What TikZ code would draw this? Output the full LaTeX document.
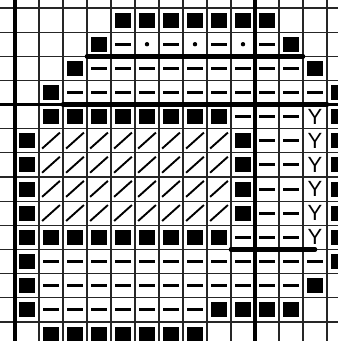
\documentclass[tikz,border=0pt]{standalone}
\usepackage{fontspec}
\newfontfamily\chartfont{Liberation Sans}
\begin{document}
\begin{tikzpicture}[
        x=24pt, y=-24.15pt,
        gridline/.style={draw=black!85, line width=1.1pt},
        tenline/.style={draw=black, line width=3.4pt},
        outline/.style={draw=black, line width=4.6pt, line cap=round},
        sq/.style={fill=black, minimum width=16pt, minimum height=15pt, inner sep=0pt},
        dsh/.style={fill=black, minimum width=16pt, minimum height=3pt, inner sep=0pt},
        dt/.style={fill=black, circle, minimum size=4.4pt, inner sep=0pt},
        slash/.style={draw=black, line width=1.9pt},
        ysym/.style={inner sep=0pt, font=\chartfont\fontsize{22}{22}\selectfont},
    ]
    \useasboundingbox (-0.625,-0.3313) rectangle (13.458,13.789);
    \clip (-0.625,-0.3313) rectangle (13.458,13.789);
    \fill[white] (-0.625,-0.3313) rectangle (13.458,13.789);
    % grid
    \foreach \c in {1,...,13} {\draw[gridline] (\c,-0.4) -- (\c,13.9);}
    \foreach \r in {0,...,13} {\draw[gridline] (-0.7,\r) -- (13.5,\r);}
    \draw[tenline] (0,-0.4) -- (0,13.9);
    \draw[tenline] (10,-0.4) -- (10,13.9);
    \draw[tenline] (-0.7,4) -- (13.5,4);
    % full stitches
    \foreach \c/\r in {4/0,5/0,6/0,7/0,8/0,9/0,10/0, 3/1,11/1, 2/2,12/2, 1/3,13/3,
        1/4,2/4,3/4,4/4,5/4,6/4,7/4,8/4,13/4,
        0/5,9/5,13/5, 0/6,9/6,13/6, 0/7,9/7,13/7, 0/8,9/8,13/8,
        0/9,1/9,2/9,3/9,4/9,5/9,6/9,7/9,8/9,13/9,
        0/10,13/10, 0/11,12/11, 0/12,8/12,9/12,10/12,11/12,
        1/13,2/13,3/13,4/13,5/13,6/13,7/13}
        {\node[sq] (s-\c-\r) at (\c+0.5,\r+0.5) {};}
    % backstitch dashes
    \foreach \c/\r in {4/1,6/1,8/1,10/1, 9/4,10/4,11/4,
        10/5,11/5, 10/6,11/6, 10/7,11/7, 10/8,11/8, 9/9,10/9,11/9}
        {\node[dsh] (d-\c-\r) at (\c+0.5,\r+0.5) {};}
    \foreach \c in {3,...,11} {\node[dsh] (d-\c-2) at (\c+0.5,2.5) {};}
    \foreach \c in {2,...,12} {\node[dsh] (d-\c-3) at (\c+0.5,3.5) {};}
    \foreach \c in {1,...,12} {\node[dsh] (d-\c-10) at (\c+0.5,10.5) {};}
    \foreach \c in {1,...,11} {\node[dsh] (d-\c-11) at (\c+0.5,11.5) {};}
    \foreach \c in {1,...,7} {\node[dsh] (d-\c-12) at (\c+0.5,12.5) {};}
    % french knots
    \foreach \c in {5,7,9} {\node[dt] (k-\c) at (\c+0.5,1.5) {};}
    % half stitches
    \foreach \r in {5,...,8} {
        \foreach \c in {1,...,8} {\draw[slash] (\c+0.13,\r+0.82) -- (\c+0.87,\r+0.16);}
    }
    % Y column
    \foreach \r in {4,...,9} {\node[ysym] (y-\r) at (12.5,\r+0.5) {Y};}
    % outlines
    \draw[outline] (3,2) -- (12,2);
    \draw[outline] (2,4) -- (13,4);
    \draw[outline] (9,10) -- (12.5,10);
\end{tikzpicture}
\end{document}
